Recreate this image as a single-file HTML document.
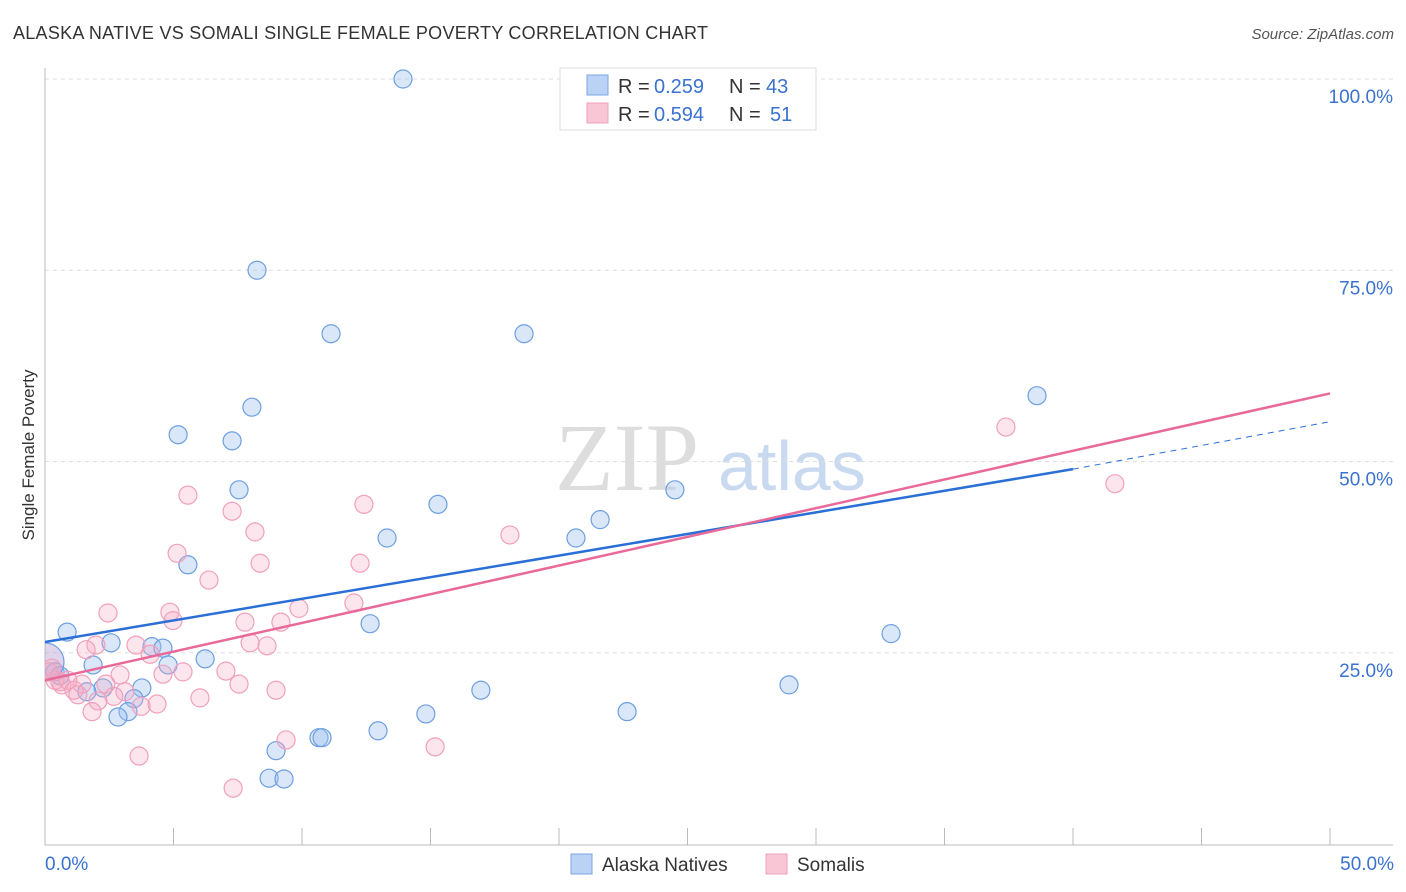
<!DOCTYPE html>
<html><head><meta charset="utf-8"><style>
body{margin:0;background:#fff;font-family:"Liberation Sans",sans-serif;}
svg{display:block}
</style></head><body>
<svg id="chart" width="1406" height="892" xmlns="http://www.w3.org/2000/svg">
<defs><clipPath id="plotclip"><rect x="45" y="60" width="1360" height="786"/></clipPath></defs>
<text x="13" y="39" font-size="18" fill="#333" textLength="695">ALASKA NATIVE VS SOMALI SINGLE FEMALE POVERTY CORRELATION CHART</text>
<text x="1394" y="39" font-size="15" fill="#555" text-anchor="end" font-style="italic">Source: ZipAtlas.com</text>
<text x="555" y="490" font-size="96" fill="#ddd" font-family="Liberation Serif">ZIP</text>
<text x="718" y="490" font-size="70" fill="#c9daf0">atlas</text>
<g id="grid"></g>
<g id="marks" clip-path="url(#plotclip)"></g>
<text transform="translate(34,455) rotate(-90)" font-size="17" fill="#333" text-anchor="middle">Single Female Poverty</text>
<g>
<rect x="560" y="68" width="256" height="62" fill="#fff" stroke="#ddd"/>
<rect x="587" y="75" width="21" height="20" fill="#b9d2f5" stroke="#7aa6e0"/>
<rect x="587" y="103" width="21" height="20" fill="#f9c6d6" stroke="#eea0bb"/>
<text x="618" y="93" font-size="20" fill="#333">R =</text><text x="654" y="93" font-size="20" fill="#3a72d0">0.259</text>
<text x="729" y="93" font-size="20" fill="#333">N =</text><text x="766" y="93" font-size="20" fill="#3a72d0">43</text>
<text x="618" y="121" font-size="20" fill="#333">R =</text><text x="654" y="121" font-size="20" fill="#3a72d0">0.594</text>
<text x="729" y="121" font-size="20" fill="#333">N =</text><text x="770" y="121" font-size="20" fill="#3a72d0">51</text>
</g>
<g>
<rect x="571" y="854" width="21" height="20" fill="#b9d2f5" stroke="#7aa6e0"/>
<text x="602" y="871" font-size="19" fill="#333">Alaska Natives</text>
<rect x="766" y="854" width="21" height="20" fill="#f9c6d6" stroke="#eea0bb"/>
<text x="797" y="871" font-size="19" fill="#333">Somalis</text>
</g>
</svg>
<script>
const yTicks=[100,75,50,25];
const yTickLabels=["100.0%","75.0%","50.0%","25.0%"];
const xTickLabels=["0.0%","50.0%"];
const blueX=[13.93,8.25,11.13,18.64,8.05,5.18,7.28,38.6,7.55,15.29,24.51,21.6,20.66,13.31,5.56,0.86,2.57,4.16,4.59,12.65,32.92,6.23,1.87,4.79,3.77,2.26,1.63,3.46,3.23,2.84,16.96,28.95,14.82,22.65,12.96,10.66,10.78,8.99,8.72,9.3,0.39,0.58,0.0];
const blueY=[100,75,66.7,66.7,57.1,53.5,52.7,58.6,46.3,44.4,46.3,42.4,40,40,36.5,27.7,26.3,25.8,25.6,28.8,27.5,24.2,23.4,23.4,20.4,20.4,19.9,19,17.3,16.6,20.1,20.8,17,17.3,14.8,13.9,13.9,12.2,8.6,8.5,22.5,22,23.8];
const pinkX=[37.39,41.63,5.56,7.28,12.41,8.17,18.09,5.14,8.37,12.26,6.38,2.45,4.86,9.88,12.02,4.98,7.78,9.18,3.54,1.98,1.6,4.09,7.98,8.64,4.59,5.37,7.04,2.92,2.37,1.44,1.13,0.66,3.11,7.55,8.99,2.68,6.03,3.74,4.36,2.06,1.83,9.38,15.18,3.66,7.32,0.27,0.39,0.58,0.16,0.89,1.28];
const pinkY=[54.5,47.1,45.6,43.5,44.4,40.8,40.4,38,36.7,36.7,34.5,30.2,30.3,30.8,31.5,29.2,29,29,26,26,25.4,24.8,26.3,25.9,22.2,22.5,22.6,22.1,20.9,20.9,20.1,20.8,19.9,20.9,20.1,19.3,19.1,18,18.3,18.7,17.3,13.6,12.7,11.5,7.3,23,21.4,21.2,22.5,21.4,19.5];
const blueTrend=[26.4,49.0,55.2]; // at x=0,40,50
const pinkTrend=[21.4,58.9]; // at x=0,50
const X=v=>45+v*25.7, Y=v=>844-v*7.65;
const NS="http://www.w3.org/2000/svg";
function mk(t,a,p){const e=document.createElementNS(NS,t);for(const k in a)e.setAttribute(k,a[k]);p.appendChild(e);return e;}
const g=document.getElementById('grid'), m=document.getElementById('marks');
yTicks.forEach((t,i)=>{
 const l=mk('line',{x1:45,x2:1393,y1:Y(t),y2:Y(t),stroke:'#ddd','stroke-dasharray':'4,4'},g);
 
 
 const tx=mk('text',{x:1393,y:Y(t)+24,'font-size':19,fill:'#3a72d0','text-anchor':'end'},g);
 tx.textContent=yTickLabels[i];
 
 
});
mk('line',{x1:45,x2:45,y1:68,y2:845,stroke:'#bbb'},g);
mk('line',{x1:45,x2:1393,y1:845,y2:845,stroke:'#bbb'},g);
for(let i=0;i<=10;i++){const tk=mk('line',{x1:X(i*5),x2:X(i*5),y1:828,y2:845,stroke:'#bbb'},g);
 
 }
[0,1].forEach(i=>{const tx=mk('text',{x:i?1394:45,y:870,'font-size':19,fill:'#3a72d0','text-anchor':i?'end':'start'},g);tx.textContent=xTickLabels[i];
 
 });
blueX.forEach((x,i)=>{const c=mk('circle',{cx:X(x),cy:Y(blueY[i]),r:i==blueX.length-1?19:9,fill:i==blueX.length-1?'rgba(190,170,215,0.5)':'rgba(160,196,240,0.4)',stroke:'#6d9fe0','stroke-width':1.2},m);
 
 });
pinkX.forEach((x,i)=>{const c=mk('circle',{cx:X(x),cy:Y(pinkY[i]),r:9,fill:'rgba(245,170,195,0.3)',stroke:'#f0a0bc','stroke-width':1.2},m);
 
 });
const bl=mk('line',{x1:X(0),y1:Y(blueTrend[0]),x2:X(40),y2:Y(blueTrend[1]),stroke:'#2a6fd6','stroke-width':2.5},m);


const bd=mk('line',{x1:X(40),y1:Y(blueTrend[1]),x2:X(50),y2:Y(blueTrend[2]),stroke:'#2a6fd6','stroke-width':1,'stroke-dasharray':'6,5'},m);


const pl=mk('line',{x1:X(0),y1:Y(pinkTrend[0]),x2:X(50),y2:Y(pinkTrend[1]),stroke:'#e8699a','stroke-width':2.5},m);


</script>
</body></html>
